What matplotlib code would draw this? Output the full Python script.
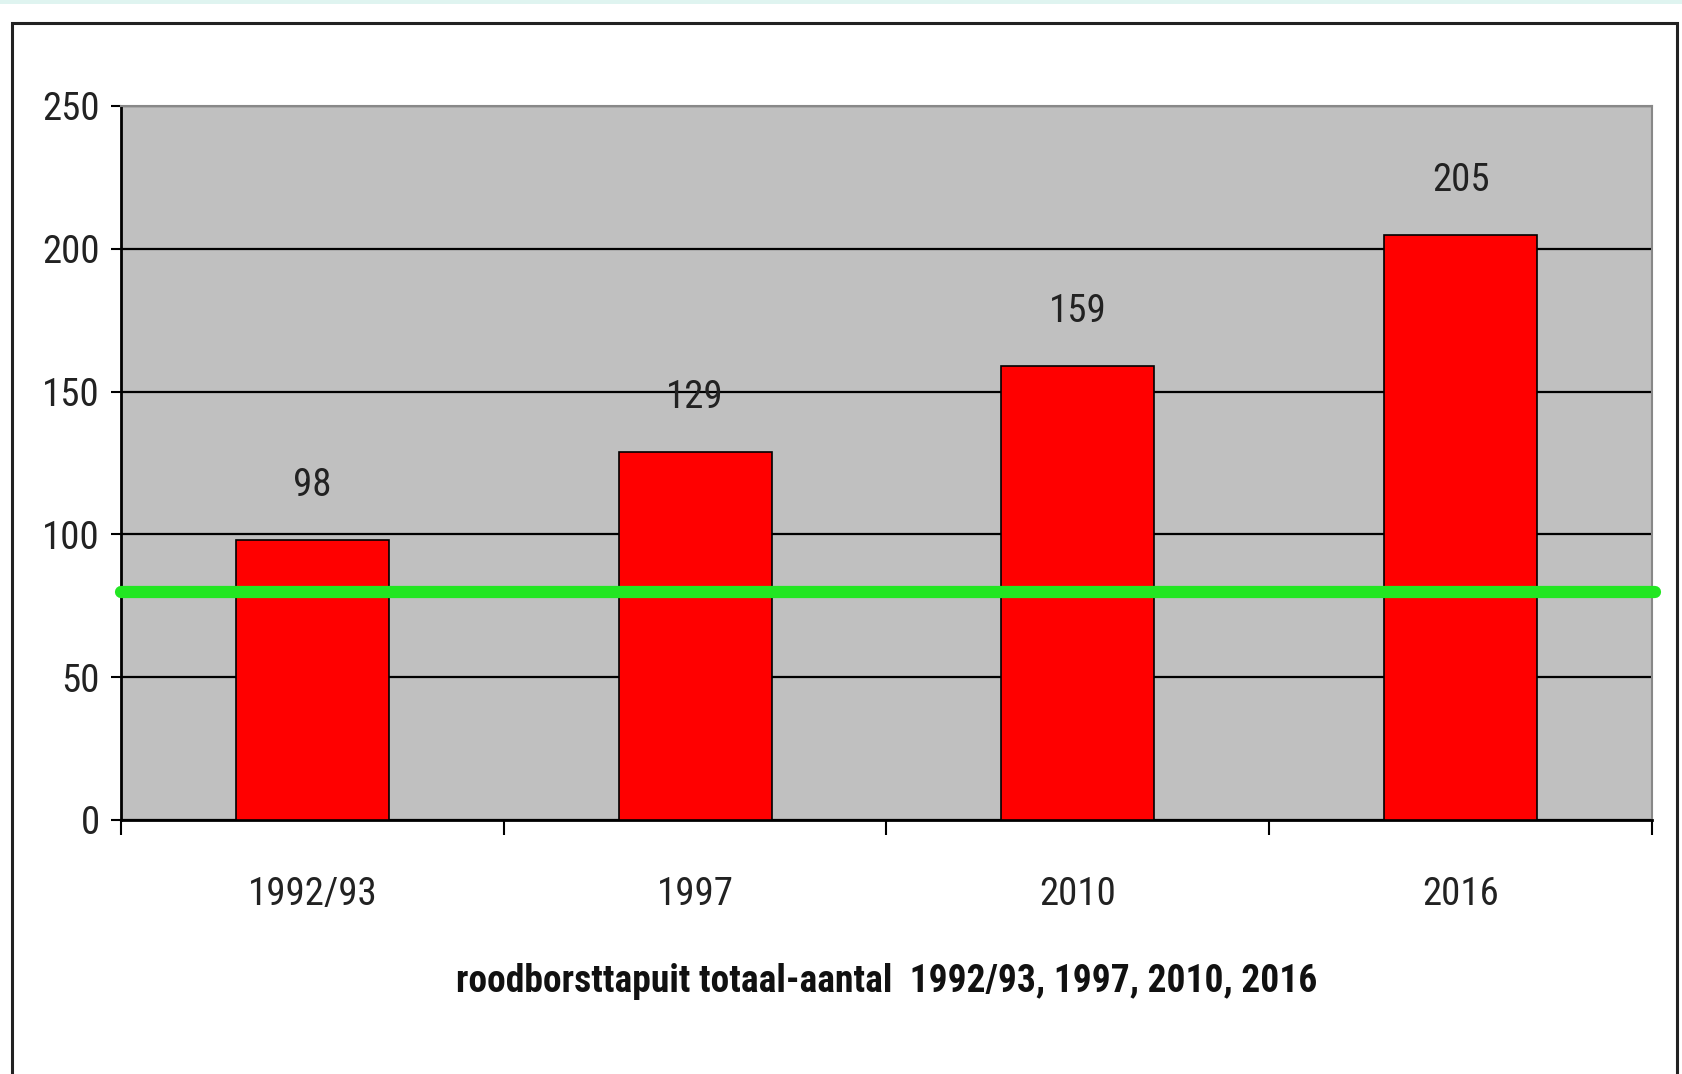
import matplotlib
matplotlib.use("Agg")
import matplotlib.pyplot as plt
from matplotlib.patches import Rectangle

categories = ["1992/93", "1997", "2010", "2016"]
values = [98, 129, 159, 205]
reference_level = 80
y_ticks = [0, 50, 100, 150, 200, 250]
x_title = "roodborsttapuit totaal-aantal  1992/93, 1997, 2010, 2016"

FONT = ["Roboto Condensed", "Liberation Sans", "DejaVu Sans"]
plt.rcParams["font.family"] = FONT

W, H = 1683, 1074
fig = plt.figure(figsize=(W / 100, H / 100), dpi=100)
fig.patch.set_facecolor("white")

# top light strip and outer frame
fig.add_artist(Rectangle((0, 1 - 4 / H), 1, 4 / H, transform=fig.transFigure,
                         facecolor="#dff4f0", edgecolor="none", zorder=0))
fig.add_artist(Rectangle((12 / W, -0.05), (1677 - 12) / W, 1 - 23 / H + 0.05,
                         transform=fig.transFigure, facecolor="none",
                         edgecolor="#222222", linewidth=2.2, zorder=1))

ax = fig.add_axes([121 / W, 1 - 820 / H, (1652 - 121) / W, (820 - 106) / H])
ax.set_facecolor("#c0c0c0")

x = list(range(len(categories)))
ax.bar(x, values, width=0.4, color="#ff0000", edgecolor="black", linewidth=1.2, zorder=3)

for i, v in enumerate(values):
    ax.text(i, v + 19, str(v), ha="center", va="center", fontsize=28, color="#222222", zorder=5)

ax.axhline(reference_level, xmin=0, xmax=1.002, color="#22e622", linewidth=8.8,
           zorder=4, clip_on=False, solid_capstyle="round")

ax.set_ylim(0, 250)
ax.set_xlim(-0.5, len(categories) - 0.5)
ax.set_yticks(y_ticks)
ax.yaxis.grid(True, color="black", linewidth=1.6, zorder=1)
ax.set_axisbelow(True)
ax.tick_params(axis="y", length=7, width=1.5, pad=8, labelsize=28, labelcolor="#222222")

ax.set_xticks(x)
ax.set_xticklabels(categories)
ax.set_xticks([i - 0.5 for i in range(len(categories) + 1)], minor=True)
ax.tick_params(axis="x", which="major", length=0, pad=40, labelsize=28, labelcolor="#222222")
ax.tick_params(axis="x", which="minor", length=11, width=1.5)

for s in ["top", "right"]:
    ax.spines[s].set_color("#888888")
    ax.spines[s].set_linewidth(1.5)
for s in ["left", "bottom"]:
    ax.spines[s].set_color("black")
    ax.spines[s].set_linewidth(2)

fig.text((121 + 1652) / 2 / W, 1 - 982 / H, x_title, ha="center", va="center",
         fontsize=27, fontweight="bold", color="#111111")

fig.savefig("out.png", dpi=100)
